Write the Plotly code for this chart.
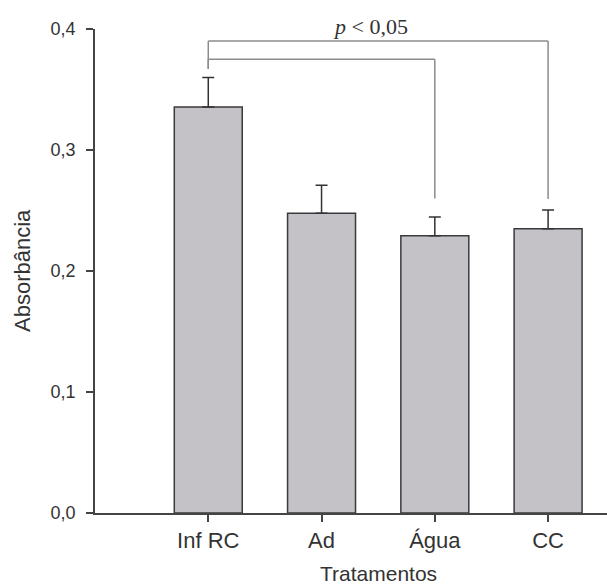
import plotly.graph_objects as go

categories = ["Inf RC", "Ad", "Água", "CC"]
means = [0.3355, 0.2477, 0.2292, 0.2350]
errors = [0.0245, 0.0231, 0.0154, 0.0154]
y_ticks = [0.0, 0.1, 0.2, 0.3, 0.4]

# significance brackets: (from index, to index, level, bottom left, bottom right)
brackets = [
    (0, 3, 0.390, 0.367, 0.2595),
    (0, 2, 0.375, 0.367, 0.2600),
]

xs = list(range(len(categories)))

fig = go.Figure()
fig.add_trace(go.Bar(
    x=xs, y=means, width=0.6,
    marker=dict(color="#c4c2c6", line=dict(color="#3a3a3a", width=1.5)),
    error_y=dict(type="data", array=errors, arrayminus=[0] * len(errors),
                 symmetric=False, color="#333333", thickness=1.5, width=6),
    showlegend=False,
))

shapes = []
gray = "#8c8c8c"
for i0, i1, lvl, b0, b1 in brackets:
    shapes.append(dict(type="line", xref="x", yref="y", x0=xs[i0], x1=xs[i1], y0=lvl, y1=lvl,
                       line=dict(color=gray, width=1.5)))
    shapes.append(dict(type="line", xref="x", yref="y", x0=xs[i0], x1=xs[i0], y0=b0, y1=lvl,
                       line=dict(color=gray, width=1.5)))
    shapes.append(dict(type="line", xref="x", yref="y", x0=xs[i1], x1=xs[i1], y0=b1, y1=lvl,
                       line=dict(color=gray, width=1.5)))

font = "Liberation Sans, Arial, sans-serif"
fig.update_layout(
    width=607, height=584,
    margin=dict(l=95, r=0, t=29, b=71),
    plot_bgcolor="white", paper_bgcolor="white",
    separators=", ",
    shapes=shapes,
    font=dict(family=font, color="#333333"),
    xaxis=dict(
        range=[-1, 3.52], tickvals=xs, ticktext=categories,
        ticks="outside", ticklen=7, tickwidth=1.5, tickcolor="#444444",
        showline=True, linecolor="#444444", linewidth=1.5,
        showgrid=False, zeroline=False,
        tickfont=dict(size=22, family=font, color="#333333"),
    ),
    yaxis=dict(
        range=[0, 0.4], tickvals=y_ticks, tickformat=".1f",
        ticks="outside", ticklen=7, tickwidth=1.5, tickcolor="#444444",
        showline=True, linecolor="#444444", linewidth=1.5,
        showgrid=False, zeroline=False, ticklabelstandoff=7,
        tickfont=dict(size=18, family=font, color="#333333"),
    ),
    annotations=[
        dict(text="<i>p</i> < 0,05", xref="x", yref="paper", x=(xs[0] + xs[3]) / 2 - 0.07, y=1.0,
             yanchor="bottom", yshift=-12, showarrow=False,
             font=dict(family="Liberation Serif, Times New Roman, serif", size=22, color="#333333")),
        dict(text="Tratamentos", xref="x", yref="paper", x=(xs[0] + xs[3]) / 2, y=0,
             yanchor="top", yshift=-47, showarrow=False,
             font=dict(size=21, family=font, color="#333333")),
        dict(text="Absorbância", xref="paper", yref="paper", x=0, y=0.5, xanchor="center",
             xshift=-73, textangle=-90, showarrow=False,
             font=dict(size=22, family=font, color="#333333")),
    ],
)

fig.write_html("out.html")
